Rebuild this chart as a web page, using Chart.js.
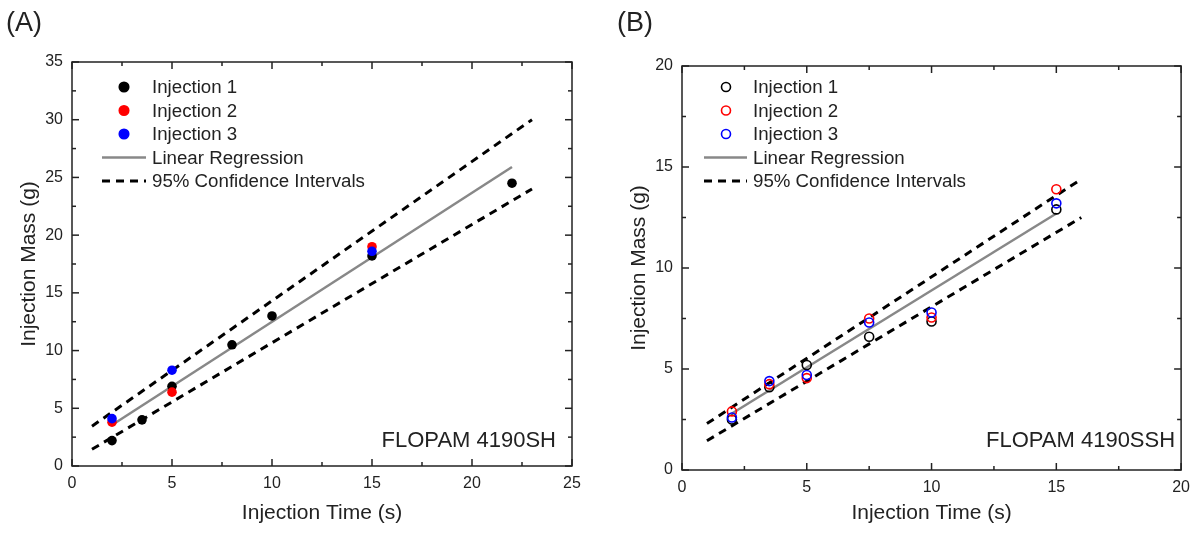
<!DOCTYPE html>
<html>
<head>
<meta charset="utf-8">
<script src="https://cdn.jsdelivr.net/npm/chart.js@4"></script>
<style>
  html, body { margin: 0; padding: 0; background: #fff; }
  #wrap { position: relative; width: 1198px; height: 533px; }
  #wrap canvas { position: absolute; top: 0; }
</style>
</head>
<body>
<div id="wrap">
  <canvas id="chartA" width="595" height="533" style="left:0"></canvas>
  <canvas id="chartB" width="598" height="533" style="left:600px"></canvas>
</div>
<script>
// Panel A - FLOPAM 4190SH (filled markers)
const timeA1 = [2, 3.5, 5, 8, 10, 15, 22];
const massA1 = [2.2, 4.0, 6.9, 10.5, 13.0, 18.2, 24.5];
const timeA23 = [2, 5, 15];
const massA2 = [3.8, 6.4, 19.0];
const massA3 = [4.1, 8.3, 18.6];
const fitTimeA = [2, 22];
const fitMassA = [3.55, 25.9];
const ciTimeA = [1, 23];
const ciUpperA = [3.45, 30.0];
const ciLowerA = [1.45, 24.0];

// Panel B - FLOPAM 4190SSH (open markers)
const timeB = [2, 3.5, 5, 7.5, 10, 15];
const massB1 = [2.5, 4.1, 5.2, 6.6, 7.35, 12.9];
const massB2 = [2.9, 4.25, 4.55, 7.5, 7.55, 13.9];
const massB3 = [2.6, 4.4, 4.7, 7.3, 7.8, 13.2];
const fitTimeB = [2, 15];
const fitMassB = [2.8, 12.7];
const ciTimeB = [1, 16];
const ciUpperB = [2.3, 14.4];
const ciLowerB = [1.45, 12.5];

const seriesLabels = ['Injection 1', 'Injection 2', 'Injection 3', 'Linear Regression', '95% Confidence Intervals'];
const seriesColors = ['#000000', '#ff0000', '#0000ff'];

Chart.defaults.font.family = '"Liberation Sans", Arial, sans-serif';
Chart.defaults.color = '#222';

const pts = (xs, ys) => xs.map((x, i) => ({ x: x, y: ys[i] }));

// frame, inward ticks on all four sides, legend, panel letter and note
const panelDecor = {
  id: 'panelDecor',
  afterDatasetsDraw(chart, args, opts) {
    const { ctx, chartArea: a, scales: { x, y } } = chart;
    ctx.save();
    ctx.strokeStyle = '#222';
    ctx.lineWidth = 1.5;
    const seg = (x1, y1, x2, y2) => { ctx.beginPath(); ctx.moveTo(x1, y1); ctx.lineTo(x2, y2); ctx.stroke(); };
    const isMajor = (v, step) => Math.abs(v / step - Math.round(v / step)) < 1e-6;

    for (let v = x.min; v <= x.max + 1e-9; v += opts.xMinor) {
      const px = x.getPixelForValue(v);
      const len = isMajor(v, opts.xMajor) ? 7 : 4;
      seg(px, a.bottom, px, a.bottom - len);
      seg(px, a.top, px, a.top + len);
    }
    for (let v = y.min; v <= y.max + 1e-9; v += opts.yMinor) {
      const py = y.getPixelForValue(v);
      const len = isMajor(v, opts.yMajor) ? 7 : 4;
      seg(a.left, py, a.left + len, py);
      seg(a.right, py, a.right - len, py);
    }
    ctx.strokeRect(a.left, a.top, a.right - a.left, a.bottom - a.top);

    // legend
    ctx.font = '18.7px "Liberation Sans", Arial, sans-serif';
    ctx.textBaseline = 'middle';
    ctx.textAlign = 'left';
    const lg = opts.legend;
    chart.data.datasets.filter(d => d.label).forEach((d, i) => {
      const ry = a.top + lg.top + i * lg.step;
      if (d.showLine) {
        ctx.strokeStyle = d.borderColor;
        ctx.lineWidth = d.borderWidth;
        ctx.setLineDash(d.borderDash || []);
        seg(a.left + lg.lineFrom, ry, a.left + lg.lineTo, ry);
        ctx.setLineDash([]);
      } else {
        ctx.beginPath();
        ctx.arc(a.left + lg.marker, ry, d.pointRadius, 0, Math.PI * 2);
        ctx.fillStyle = d.backgroundColor;
        ctx.fill();
        ctx.strokeStyle = d.borderColor;
        ctx.lineWidth = d.borderWidth;
        ctx.stroke();
      }
      ctx.fillStyle = '#222';
      ctx.fillText(d.label, a.left + lg.text, ry + 1);
    });

    // note in the lower right corner
    ctx.font = '22px "Liberation Sans", Arial, sans-serif';
    ctx.textAlign = 'right';
    ctx.fillText(opts.note, a.right - opts.noteRight, a.bottom - opts.noteBottom);

    // panel letter
    ctx.font = '27px "Liberation Sans", Arial, sans-serif';
    ctx.textAlign = 'left';
    ctx.fillText(opts.letter, opts.letterX, 24);
    ctx.restore();
  }
};

function markerSet(label, data, color, hollow, order) {
  return {
    label: label,
    data: data,
    showLine: false,
    pointRadius: hollow ? 4.5 : 4.8,
    pointBorderWidth: hollow ? 1.6 : 0,
    borderWidth: hollow ? 1.6 : 0,
    borderColor: color,
    pointBorderColor: color,
    backgroundColor: hollow ? 'rgba(255,255,255,0)' : color,
    pointBackgroundColor: hollow ? 'rgba(255,255,255,0)' : color,
    order: order
  };
}

function lineSet(label, data, color, width, dash, order) {
  return {
    label: label,
    data: data,
    showLine: true,
    pointRadius: 0,
    borderColor: color,
    borderWidth: width,
    borderDash: dash,
    order: order
  };
}

function buildChart(id, cfg) {
  return new Chart(document.getElementById(id), {
    type: 'scatter',
    data: { datasets: cfg.datasets },
    options: {
      responsive: false,
      animation: false,
      layout: { padding: cfg.padding },
      plugins: {
        legend: { display: false },
        tooltip: { enabled: false },
        panelDecor: cfg.decor
      },
      scales: {
        x: {
          type: 'linear', min: 0, max: cfg.xMax,
          grid: { display: false, drawTicks: false },
          border: { display: false },
          ticks: { stepSize: 5, padding: 8, font: { size: 16 } },
          title: { display: true, text: 'Injection Time (s)', font: { size: 21 }, padding: { top: 4, bottom: 4 } },
          afterFit: s => { s.height = cfg.xHeight; }
        },
        y: {
          type: 'linear', min: 0, max: cfg.yMax,
          grid: { display: false, drawTicks: false },
          border: { display: false },
          ticks: { stepSize: 5, padding: 9, font: { size: 16 } },
          title: { display: true, text: 'Injection Mass (g)', font: { size: 21 }, padding: { top: 4, bottom: 4 } },
          afterFit: s => { s.width = cfg.yWidth; }
        }
      }
    },
    plugins: [panelDecor]
  });
}

buildChart('chartA', {
  xMax: 25, yMax: 35,
  padding: { left: 13, right: 23, top: 62, bottom: 3 },
  xHeight: 64, yWidth: 59,
  datasets: [
    markerSet(seriesLabels[0], pts(timeA1, massA1), seriesColors[0], false, 3),
    markerSet(seriesLabels[1], pts(timeA23, massA2), seriesColors[1], false, 2),
    markerSet(seriesLabels[2], pts(timeA23, massA3), seriesColors[2], false, 1),
    lineSet(seriesLabels[3], pts(fitTimeA, fitMassA), '#888888', 2.5, [], 4),
    lineSet(seriesLabels[4], pts(ciTimeA, ciUpperA), '#000000', 3, [8, 6], 5),
    lineSet('', pts(ciTimeA, ciLowerA), '#000000', 3, [8, 6], 5)
  ],
  decor: {
    xMinor: 2.5, xMajor: 5, yMinor: 2.5, yMajor: 5,
    legend: { top: 25, step: 23.5, marker: 52, text: 80, lineFrom: 30, lineTo: 74 },
    note: 'FLOPAM 4190SH', noteRight: 16, noteBottom: 25,
    letter: '(A)', letterX: 6
  }
});

buildChart('chartB', {
  xMax: 20, yMax: 20,
  padding: { left: 23, right: 15, top: 66, bottom: 3 },
  xHeight: 60, yWidth: 59,
  datasets: [
    markerSet(seriesLabels[0], pts(timeB, massB1), seriesColors[0], true, 3),
    markerSet(seriesLabels[1], pts(timeB, massB2), seriesColors[1], true, 2),
    markerSet(seriesLabels[2], pts(timeB, massB3), seriesColors[2], true, 1),
    lineSet(seriesLabels[3], pts(fitTimeB, fitMassB), '#888888', 2.5, [], 4),
    lineSet(seriesLabels[4], pts(ciTimeB, ciUpperB), '#000000', 3, [8, 6], 5),
    lineSet('', pts(ciTimeB, ciLowerB), '#000000', 3, [8, 6], 5)
  ],
  decor: {
    xMinor: 2.5, xMajor: 5, yMinor: 2.5, yMajor: 5,
    legend: { top: 21, step: 23.5, marker: 44, text: 71, lineFrom: 22, lineTo: 65 },
    note: 'FLOPAM 4190SSH', noteRight: 6, noteBottom: 29,
    letter: '(B)', letterX: 17
  }
});
</script>
</body>
</html>
